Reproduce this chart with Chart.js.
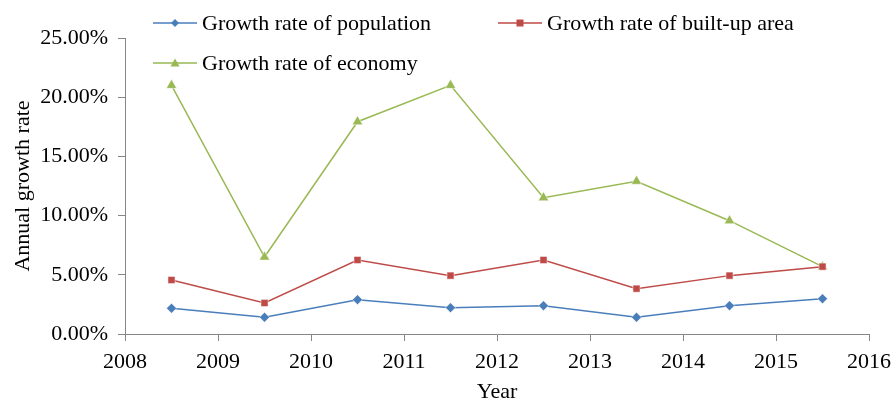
<!DOCTYPE html>
<html>
<head>
<meta charset="utf-8">
<script src="https://cdn.jsdelivr.net/npm/chart.js@4"></script>
<style>
html,body{margin:0;padding:0;background:#fff;}
#wrap{width:895px;height:401px;}
</style>
</head>
<body>
<div id="wrap"><canvas id="c" width="895" height="401"></canvas></div>
<script>
const years = [2008.5, 2009.5, 2010.5, 2011.5, 2012.5, 2013.5, 2014.5, 2015.5];
const population = [2.17, 1.41, 2.90, 2.22, 2.39, 1.41, 2.39, 2.98];
const builtUp = [4.56, 2.62, 6.25, 4.93, 6.25, 3.83, 4.93, 5.69];
const economy = [21.0, 6.5, 17.93, 21.0, 11.51, 12.9, 9.57, 5.69];
const seriesNames = ['Growth rate of population', 'Growth rate of built-up area', 'Growth rate of economy'];
const xTitle = 'Year';
const yTitle = 'Annual growth rate';

const FONT = "'Liberation Serif', 'Times New Roman', serif";
const colors = ['#4A7EBB', '#BE4B48', '#98B954'];
const styles = ['rectRot', 'rect', 'triangle'];
const radii = [5, 5, 6];

function pts(vals){ return vals.map((v,i)=>({x:years[i], y:v})); }

const legendPos = [
  {x:153, y:23}, {x:498, y:23}, {x:153, y:63}
];

const customLegend = {
  id:'customLegend',
  afterDraw(chart){
    const ctx = chart.ctx;
    ctx.save();
    chart.data.datasets.forEach((ds,i)=>{
      const p = legendPos[i];
      ctx.strokeStyle = ds.borderColor;
      ctx.lineWidth = 1.5;
      ctx.beginPath(); ctx.moveTo(p.x, p.y); ctx.lineTo(p.x+44, p.y); ctx.stroke();
      const cx = p.x+22, cy = p.y;
      ctx.fillStyle = ds.pointBackgroundColor;
      ctx.beginPath();
      const r = 4;
      if (styles[i]==='rectRot'){
        ctx.moveTo(cx, cy-r); ctx.lineTo(cx+r, cy); ctx.lineTo(cx, cy+r); ctx.lineTo(cx-r, cy);
      } else if (styles[i]==='rect'){
        ctx.rect(cx-3.5, cy-3.5, 7, 7);
      } else {
        ctx.moveTo(cx, cy-4.5); ctx.lineTo(cx+4.5, cy+3.5); ctx.lineTo(cx-4.5, cy+3.5);
      }
      ctx.closePath(); ctx.fill();
      ctx.fillStyle = '#000';
      ctx.font = '22px ' + FONT;
      ctx.textBaseline = 'middle';
      ctx.textAlign = 'left';
      ctx.fillText(ds.label, p.x+49, p.y+1);
    });
    ctx.restore();
  }
};

new Chart(document.getElementById('c'), {
  type:'line',
  data:{
    datasets:[population, builtUp, economy].map((vals,i)=>({
      label: seriesNames[i],
      data: pts(vals),
      borderColor: colors[i],
      backgroundColor: colors[i],
      pointBackgroundColor: colors[i],
      pointBorderColor: '#ffffff',
      pointBorderWidth: 0.5,
      pointStyle: styles[i],
      pointRadius: radii[i],
      borderWidth: 1.5,
      tension: 0,
      fill: false
    }))
  },
  options:{
    responsive:false,
    animation:false,
    devicePixelRatio:1,
    layout:{padding:{top:38, right:26, left:0, bottom:0}},
    plugins:{legend:{display:false}, tooltip:{enabled:false}},
    scales:{
      x:{
        type:'linear', min:2008, max:2016,
        ticks:{stepSize:1, color:'#000', font:{family:FONT, size:22}, padding:8, maxRotation:0,
          callback:(v)=>String(v)},
        grid:{display:true, drawOnChartArea:false, drawTicks:true, tickLength:7, color:'#868686'},
        border:{color:'#868686', width:1},
        title:{display:true, text:xTitle, color:'#000', font:{family:FONT, size:22, lineHeight:1}, padding:{top:0,bottom:-2}},
        afterFit(s){ s.height = 67; s.paddingRight = 0; s.paddingLeft = 0; }
      },
      y:{
        min:0, max:25,
        ticks:{stepSize:5, color:'#000', font:{family:FONT, size:22}, padding:10,
          callback:(v)=>v.toFixed(2)+'%'},
        grid:{display:true, drawOnChartArea:false, drawTicks:true, tickLength:7, color:'#868686'},
        border:{color:'#868686', width:1},
        title:{display:true, text:yTitle, color:'#000', font:{family:FONT, size:22, lineHeight:1}, padding:{top:12,bottom:0}},
        afterFit(s){ s.width = 125; s.paddingTop = 0; s.paddingBottom = 0; }
      }
    }
  },
  plugins:[customLegend]
});
</script>
</body>
</html>
